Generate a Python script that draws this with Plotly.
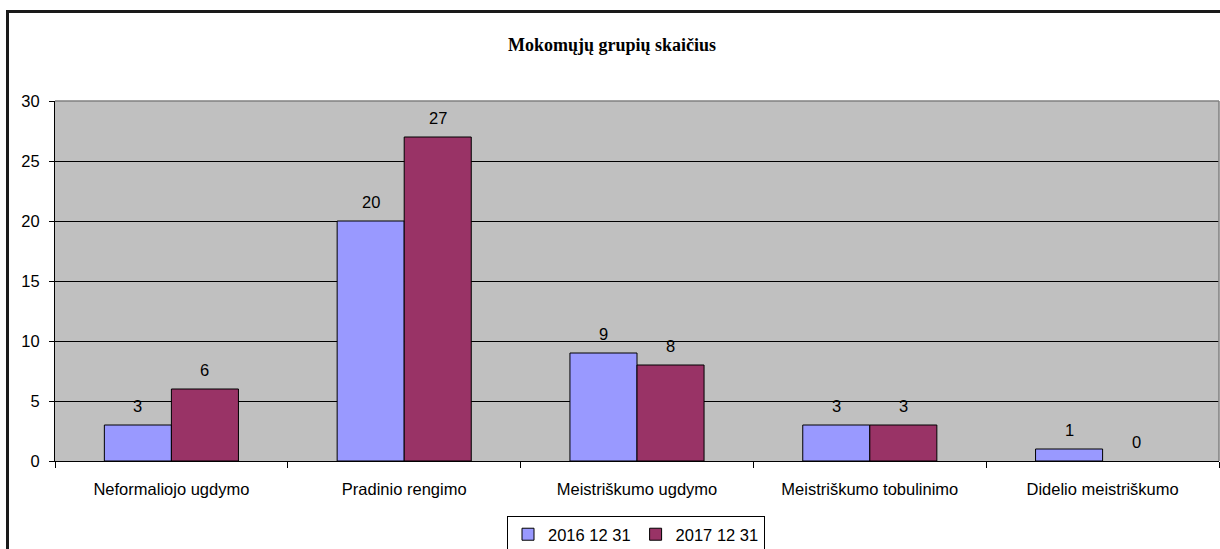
import plotly.graph_objects as go

categories = ["Neformaliojo ugdymo", "Pradinio rengimo", "Meistriškumo ugdymo",
              "Meistriškumo tobulinimo", "Didelio meistriškumo"]
series_names = ["2016 12 31", "2017 12 31"]
values_2016 = [3, 20, 9, 3, 1]
values_2017 = [6, 27, 8, 3, 0]
y_ticks = [0, 5, 10, 15, 20, 25, 30]
title_text = "Mokomųjų grupių skaičius"

colors = ["#9999FF", "#993366"]
W, H = 1220, 549
L, R, T, B = 55, 1, 101, 88
pw, ph = W - L - R, H - T - B
FS = 16.5
FONT = "Liberation Sans, Arial"

fig = go.Figure()
for name, vals, col in zip(series_names, [values_2016, values_2017], colors):
    fig.add_trace(go.Bar(x=categories, y=vals, name=name,
                         marker=dict(color=col,
                                     line=dict(color="#000000",
                                               width=[1 if v else 0 for v in vals]))))

# data labels
bar_px = pw / 5 * (1 - 0.424) / 2
for i, vals in enumerate([values_2016, values_2017]):
    shift = (-0.5 if i == 0 else 0.5) * bar_px
    for c, v in zip(categories, vals):
        fig.add_annotation(x=c, y=v, text=str(v), showarrow=False, xshift=shift,
                           yshift=19, yanchor="middle",
                           font=dict(family=FONT, size=FS, color="#000"))

# outer frame
fig.add_shape(type="rect", xref="paper", yref="paper",
              x0=(7.5 - L) / pw, x1=(W + 20 - L) / pw,
              y0=-(B + 20) / ph, y1=(H - B - 11.5) / ph,
              line=dict(color="#1a1a1a", width=3), layer="above")
# gray top/right plot border
fig.add_shape(type="line", xref="paper", yref="paper", x0=0, x1=1, y0=1, y1=1,
              line=dict(color="#808080", width=1.5))
fig.add_shape(type="line", xref="paper", yref="paper", x0=1, x1=1, y0=0, y1=1,
              line=dict(color="#808080", width=1.5))

fig.update_layout(
    width=W, height=H,
    margin=dict(l=L, r=R, t=T, b=B, autoexpand=False),
    paper_bgcolor="#FFFFFF", plot_bgcolor="#C0C0C0",
    barmode="group", bargap=0.424, bargroupgap=0,
    font=dict(family=FONT, size=FS, color="#000"),
    title=dict(text="<b>" + title_text + "</b>", x=612 / W, xanchor="center",
               xref="container", yref="container", y=1 - 45 / H, yanchor="middle",
               font=dict(family="Liberation Serif, Times New Roman", size=18, color="#000")),
    legend=dict(orientation="h", x=(636 - L) / pw, xanchor="center",
                y=-(516 - T - ph) / ph, yanchor="top",
                bordercolor="#000", borderwidth=1, bgcolor="#FFF",
                font=dict(family=FONT, size=FS), itemwidth=30, traceorder="normal"),
    showlegend=True,
)
fig.update_xaxes(showline=True, linecolor="#000", linewidth=1, ticks="outside",
                 ticklen=6, tickcolor="#000", tickson="boundaries",
                 ticklabelstandoff=13, showgrid=False)
fig.update_yaxes(range=[0, 30], tickvals=y_ticks, showline=True, linecolor="#000",
                 linewidth=1, ticks="outside", ticklen=5, tickcolor="#000",
                 showgrid=True, gridcolor="#000", gridwidth=1, zeroline=False,
                 ticklabelstandoff=6)

fig.write_html("out.html", config={"displayModeBar": False},
               post_script="document.body.style.margin='0px';")
